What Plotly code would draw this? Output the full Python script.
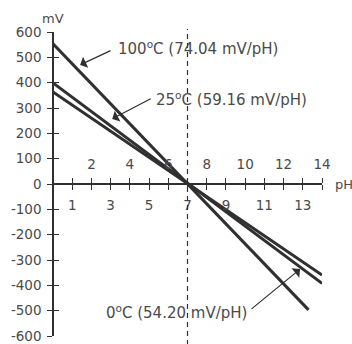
import plotly.graph_objects as go

# ---- data ----
ph_100 = [0, 13.3]
mv_100 = [553, -497]
ph_25 = [0, 14]
mv_25 = [399, -392]
ph_0 = [0, 14]
mv_0 = [363, -359]

neutral_ph = 7
y_ticks = list(range(-600, 700, 100))
y_labels = [str(v) for v in y_ticks]
x_ticks = list(range(1, 15))
x_labels_odd = [str(v) if v % 2 == 1 else "" for v in x_ticks]
x_labels_even = [str(v) if v % 2 == 0 else "" for v in x_ticks]

label_100 = "100<sup>o</sup>C (74.04 mV/pH)"
label_25 = "25<sup>o</sup>C (59.16 mV/pH)"
label_0 = "0<sup>o</sup>C (54.20 mV/pH)"

LINE = "#303030"
TXT = "#4a4a4a"
FONT = "DejaVu Sans"

fig = go.Figure()
for xs, ys in [(ph_100, mv_100), (ph_25, mv_25), (ph_0, mv_0)]:
    fig.add_trace(go.Scatter(x=xs, y=ys, mode="lines",
                             line=dict(color=LINE, width=3), showlegend=False,
                             hoverinfo="skip"))

# dummy trace for overlay axes
fig.add_trace(go.Scatter(x=[None], y=[None], xaxis="x2", yaxis="y2", showlegend=False))

axis_common = dict(showgrid=False, zeroline=False, showline=True, linecolor=LINE,
                   linewidth=1.5, tickcolor=LINE, tickwidth=1.3, ticklen=5,
                   automargin=False,
                   tickfont=dict(family=FONT, size=13.5, color=TXT))

fig.update_layout(
    width=352, height=344,
    margin=dict(l=53, r=30, t=32, b=8, autoexpand=False),
    paper_bgcolor="white", plot_bgcolor="white",
    xaxis=dict(range=[0, 14], anchor="free", position=0.5, side="bottom",
               ticks="outside", tickvals=x_ticks, ticktext=x_labels_odd,
               ticklabelstandoff=4, **axis_common),
    xaxis2=dict(range=[0, 14], overlaying="x", anchor="free", position=0.5, side="top",
                ticks="outside", tickvals=x_ticks, ticktext=x_labels_even,
                ticklabelstandoff=4, **axis_common),
    yaxis=dict(range=[-600, 600], anchor="free", position=0, side="left",
               ticks="outside", tickvals=y_ticks, ticktext=y_labels,
               ticklabelstandoff=3, **axis_common),
    yaxis2=dict(range=[-600, 600], overlaying="y", anchor="free", position=0, side="left",
                ticks="inside", tickvals=y_ticks, showticklabels=False, **axis_common),
)

fig.add_shape(type="line", xref="x", yref="paper", x0=neutral_ph, x1=neutral_ph,
              y0=-0.03, y1=1.01, line=dict(color=LINE, width=1.2, dash="5px,4px"))

font = dict(family=FONT, size=15, color=TXT)
# text labels
fig.add_annotation(x=3.28, y=537, text=label_100, showarrow=False, xanchor="left",
                   yanchor="middle", font=font)
fig.add_annotation(x=5.26, y=336, text=label_25, showarrow=False, xanchor="left",
                   yanchor="middle", font=font)
fig.add_annotation(x=2.65, y=-505, text=label_0, showarrow=False, xanchor="left",
                   yanchor="middle", font=font)
# arrows
arrow = dict(text="", showarrow=True, arrowhead=1, arrowsize=1.7, arrowwidth=1.2,
             arrowcolor=LINE)
fig.add_annotation(x=1.41, y=470, ax=32, ay=-15, **arrow)
fig.add_annotation(x=3.08, y=257, ax=40, ay=-21, **arrow)
fig.add_annotation(x=12.86, y=-336, ax=-50, ay=41, **arrow)

# axis titles
fig.add_annotation(x=0, y=1, xref="paper", yref="paper", text="mV", showarrow=False,
                   xanchor="center", yanchor="bottom", yshift=4, xshift=0,
                   font=dict(family=FONT, size=13, color=TXT))
fig.add_annotation(x=1, y=0.5, xref="paper", yref="paper", text="pH", showarrow=False,
                   xanchor="left", yanchor="middle", xshift=11,
                   font=dict(family=FONT, size=13, color=TXT))

fig.write_html("out.html", config={"displayModeBar": False},
               post_script="document.body.style.margin='0';document.body.style.overflow='hidden';")
